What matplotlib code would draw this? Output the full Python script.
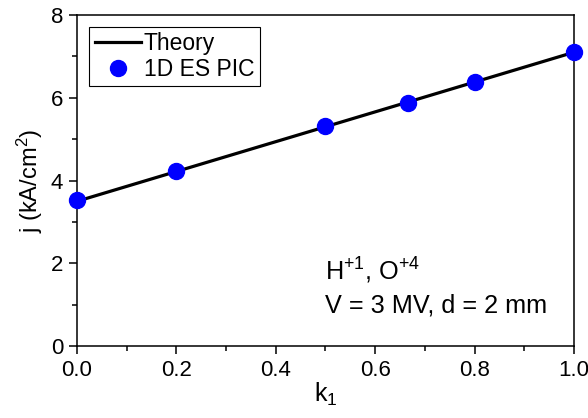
import matplotlib.pyplot as plt
from matplotlib.ticker import MultipleLocator

plt.rcParams['font.family'] = ['Liberation Sans', 'DejaVu Sans']
plt.rcParams['mathtext.fontset'] = 'custom'
plt.rcParams['mathtext.rm'] = 'Liberation Sans'
plt.rcParams['mathtext.it'] = 'Liberation Sans'

# theory line end points
k_theory = [0.0, 1.0]
j_theory = [3.5, 7.1]

# 1D ES PIC points
k_pic = [0.0, 0.2, 0.5, 0.667, 0.8, 1.0]
j_pic = [3.52, 4.22, 5.31, 5.88, 6.38, 7.1]

fig = plt.figure(figsize=(5.88, 4.18), dpi=100)
ax = fig.add_axes([0.131, 0.172, 0.845, 0.792])

ax.plot(k_theory, j_theory, color='black', lw=2.3, label='Theory', zorder=2)
ax.plot(k_pic, j_pic, 'o', color='blue', ms=11.5, label='1D ES PIC', zorder=3, clip_on=False)

ax.set_xlim(0, 1)
ax.set_ylim(0, 8)
ax.xaxis.set_major_locator(MultipleLocator(0.2))
ax.xaxis.set_minor_locator(MultipleLocator(0.1))
ax.yaxis.set_major_locator(MultipleLocator(2))
ax.yaxis.set_minor_locator(MultipleLocator(1))
ax.tick_params(which='both', direction='out', width=1.1, labelsize=16)
ax.tick_params(which='major', length=6, pad=4)
ax.tick_params(which='minor', length=3.5)
for s in ax.spines.values():
    s.set_linewidth(1.1)

ax.set_xlabel('k$_1$', fontsize=18, labelpad=0)
ax.set_ylabel('j (kA/cm$^2$)', fontsize=17, labelpad=4)

ax.text(0.5, 1.6, 'H$^{+1}$, O$^{+4}$', fontsize=18.2)
ax.text(0.5, 0.82, 'V = 3 MV, d = 2 mm', fontsize=18.2)

leg = ax.legend(loc='upper left', fontsize=16.5, fancybox=False, edgecolor='black',
                framealpha=1, handlelength=2.0, handletextpad=0.15, borderpad=0.25,
                borderaxespad=0, labelspacing=0.1, bbox_to_anchor=(0.024, 0.965))
leg.get_frame().set_linewidth(0.8)

fig.savefig('out.png', dpi=100)
